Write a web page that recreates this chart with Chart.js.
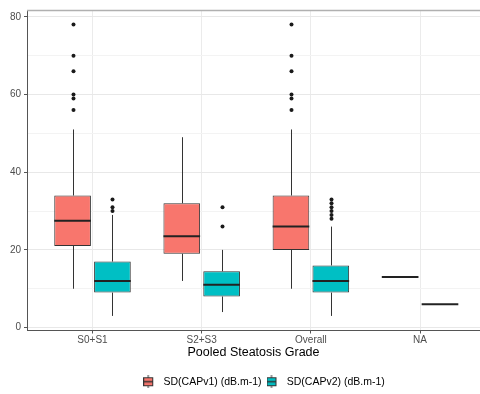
<!DOCTYPE html>
<html lang="en">
<head>
<meta charset="UTF-8">
<title>SD(CAP) by pooled steatosis grade</title>
<script src="https://cdn.jsdelivr.net/npm/chart.js@4"></script>
<style>
  html, body { margin: 0; padding: 0; background: #fff; overflow: hidden; }
</style>
</head>
<body>
<canvas id="chart" width="480" height="394"></canvas>
<script>
  const grades = ['S0+S1', 'S2+S3', 'Overall', 'NA'];
  const seriesNames = ['SD(CAPv1) (dB.m-1)', 'SD(CAPv2) (dB.m-1)'];
  const seriesColors = ['#F8766D', '#00BFC4'];
  const yTicks = [0, 10, 20, 30, 40, 50, 60, 70, 80];

  // [lower whisker, Q1, median, Q3, upper whisker] per grade
  const capv1Stats = [[10, 21, 27.5, 34, 51], [12, 19, 23.5, 32, 49], [10, 20, 26, 34, 51], [13, 13, 13, 13, 13]];
  const capv2Stats = [[3, 9, 12, 17, 29], [4, 8, 11, 14.5, 20], [3, 9, 12, 16, 26], [6, 6, 6, 6, 6]];
  const capv1Outliers = [[56, 59, 60, 66, 70, 78], [], [56, 59, 60, 66, 70, 78], []];
  const capv2Outliers = [[30, 31, 33], [26, 31], [28, 29, 30, 31, 32, 33], []];

  const allStats = [capv1Stats, capv2Stats];
  const allOutliers = [capv1Outliers, capv2Outliers];

  Chart.defaults.font.family = '"Liberation Sans", Arial, sans-serif';

  // little boxplot key for the legend
  function makeKey(color) {
    const c = document.createElement('canvas');
    c.width = 15; c.height = 13;
    const k = c.getContext('2d');
    k.strokeStyle = '#333';
    k.lineWidth = 1;
    k.beginPath();
    k.moveTo(5, 0); k.lineTo(5, 3);
    k.moveTo(5, 10); k.lineTo(5, 13);
    k.stroke();
    k.fillStyle = color;
    k.fillRect(0.5, 2.5, 9, 8);
    k.strokeRect(0.5, 2.5, 9, 8);
    k.lineWidth = 1.5;
    k.beginPath();
    k.moveTo(0.5, 6.5); k.lineTo(9.5, 6.5);
    k.stroke();
    return c;
  }
  const keys = seriesColors.map(makeKey);

  // whiskers, medians, outliers and the panel top edge
  const boxParts = {
    id: 'boxParts',
    afterDatasetsDraw(chart) {
      const ctx = chart.ctx;
      const y = chart.scales.y;
      const area = chart.chartArea;
      ctx.save();
      ctx.strokeStyle = '#b0b0b0';
      ctx.lineWidth = 1.5;
      ctx.beginPath();
      ctx.moveTo(area.left, area.top + 0.5);
      ctx.lineTo(area.right, area.top + 0.5);
      ctx.stroke();

      allStats.forEach((stats, d) => {
        const meta = chart.getDatasetMeta(d);
        meta.data.forEach((bar, i) => {
          const s = stats[i];
          const x = Math.round(bar.x) + 0.5;
          const half = bar.width / 2;
          ctx.strokeStyle = '#333';
          ctx.lineWidth = 1;
          ctx.beginPath();
          ctx.moveTo(x, y.getPixelForValue(s[3]));
          ctx.lineTo(x, y.getPixelForValue(s[4]));
          ctx.moveTo(x, y.getPixelForValue(s[1]));
          ctx.lineTo(x, y.getPixelForValue(s[0]));
          ctx.stroke();
          ctx.strokeStyle = '#222';
          ctx.lineWidth = 2;
          ctx.beginPath();
          ctx.moveTo(bar.x - half, y.getPixelForValue(s[2]));
          ctx.lineTo(bar.x + half, y.getPixelForValue(s[2]));
          ctx.stroke();
          ctx.fillStyle = '#1a1a1a';
          allOutliers[d][i].forEach(v => {
            ctx.beginPath();
            ctx.arc(x, y.getPixelForValue(v), 2, 0, Math.PI * 2);
            ctx.fill();
          });
        });
      });
      ctx.restore();
    }
  };

  // ggplot centres the legend on the uncropped figure
  const legendShift = {
    id: 'legendShift',
    afterLayout(chart) {
      const lg = chart.legend;
      lg.left += 24; lg.right += 24;
      lg.top += 3; lg.bottom += 3;
    }
  };

  const datasets = allStats.map((stats, d) => ({
    label: seriesNames[d],
    data: stats.map((s, i) => ({ x: i + 1, y: [s[1], s[3]] })),
    backgroundColor: seriesColors[d],
    borderColor: '#333',
    borderWidth: 1,
    borderSkipped: false,
    categoryPercentage: 0.73,
    barPercentage: 0.92
  }));

  new Chart(document.getElementById('chart'), {
    type: 'bar',
    data: { datasets },
    plugins: [boxParts, legendShift],
    options: {
      responsive: false,
      animation: false,
      layout: { padding: { top: 10, right: 0, left: 0, bottom: 0 } },
      plugins: {
        tooltip: { enabled: false },
        legend: {
          position: 'bottom',
          labels: {
            usePointStyle: true,
            pointStyleWidth: 15,
            boxHeight: 10,
            padding: 5,
            color: '#1a1a1a',
            font: { size: 10.5 },
            generateLabels: () => seriesNames.map((name, d) => ({
              text: name,
              pointStyle: keys[d],
              fillStyle: seriesColors[d],
              strokeStyle: '#333',
              lineWidth: 0,
              datasetIndex: d,
              hidden: false
            }))
          }
        }
      },
      scales: {
        x: {
          type: 'linear',
          min: 0.4,
          max: 4.549,
          offset: false,
          afterBuildTicks: s => { s.ticks = grades.map((g, i) => ({ value: i + 1 })); },
          afterFit: s => { s.height = 38; },
          ticks: {
            callback: v => grades[v - 1],
            color: '#4d4d4d',
            font: { size: 10 },
            padding: 1,
            maxRotation: 0
          },
          grid: { color: '#ebebeb', offset: false, tickLength: 3, tickColor: '#555' },
          border: { color: '#555', width: 1 },
          title: {
            display: true,
            text: 'Pooled Steatosis Grade',
            color: '#000',
            font: { size: 12.5 },
            padding: { top: 0, bottom: 8 }
          }
        },
        y: {
          min: -0.75,
          max: 81.75,
          afterBuildTicks: s => { s.ticks = yTicks.map(v => ({ value: v })); },
          afterFit: s => { s.width = 27; },
          ticks: {
            callback: v => (v % 20 === 0 ? v : ''),
            color: '#4d4d4d',
            font: { size: 10 },
            padding: 3
          },
          grid: {
            color: c => (c.tick && c.tick.value % 20 === 0 ? '#e8e8e8' : '#f3f3f3'),
            tickLength: 3,
            tickColor: c => (c.tick && c.tick.value % 20 === 0 ? '#555' : 'rgba(0,0,0,0)')
          },
          border: { color: '#555', width: 1 }
        }
      }
    }
  });
</script>
</body>
</html>
